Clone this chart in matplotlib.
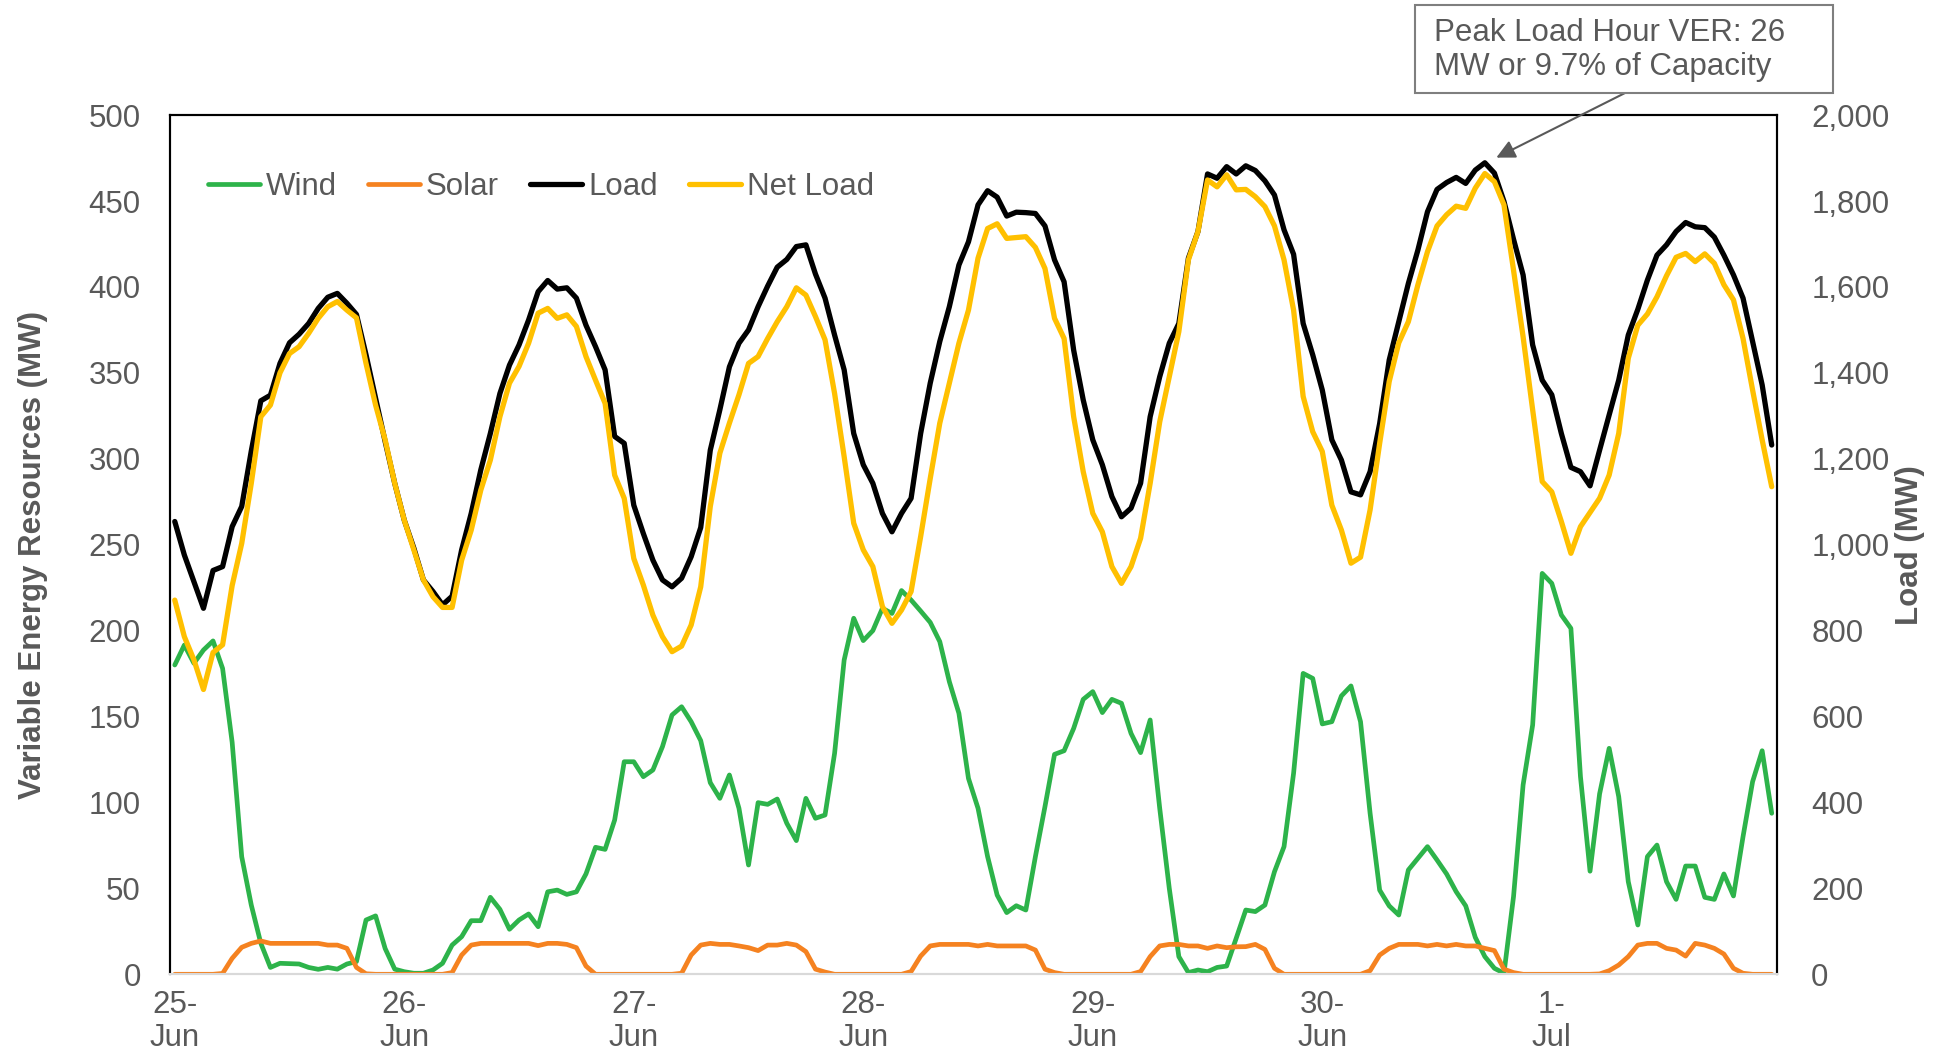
import numpy as np
import matplotlib
matplotlib.use("Agg")
import matplotlib.pyplot as plt
from matplotlib.patches import Rectangle
from matplotlib.ticker import FuncFormatter

plt.rcParams['font.family'] = ['Liberation Sans', 'DejaVu Sans']

# hourly values, 25-Jun 00:00 through 1-Jul 23:00
wind = [
    180, 191.6, 181, 188.7, 194, 178, 135, 68.4, 40.3, 18, 4, 6.4, 6.2, 6, 4, 2.9, 4, 3, 6, 7.4, 31.6, 34, 15, 3,
    1.5, 0.6, 0.6, 2.5, 6.4, 17, 21.9, 31.2, 31.2, 44.8, 37.8, 26.2, 31.6, 35.1, 27.7, 48, 49, 46.5, 48, 58.4, 73.9, 72.7, 89.8, 123.7,
    123.7, 115, 118.9, 132.5, 150.9, 155.7, 147, 136, 111.5, 102.4, 116, 96.6, 63.6, 99.9, 98.9, 102, 87.9, 77.8, 102.4, 90.8, 92.7, 128.6, 182.9, 207.2,
    194.2, 200, 213, 210, 223.3, 217.8, 211.4, 204.8, 193.6, 170.3, 151.9, 114, 96.6, 68.5, 46.1, 35.9, 39.9, 37.4, 68.5, 97.6, 128, 130.1, 143.1, 160,
    164.5, 152.3, 160, 157.7, 140.2, 129, 148, 96.6, 50, 10.3, 1, 2.5, 1.5, 4, 4.8, 21, 37.4, 36.5, 40.3, 59.7, 74.3, 117, 175.1, 172.2,
    145.7, 147, 162, 167.8, 147, 93.7, 49, 39.8, 34.5, 60.7, 67.5, 74.3, 66.5, 58.4, 48.1, 39.8, 21.5, 10.3, 3.5, 0.6, 45.2, 110.2, 145.1, 233.3,
    227.5, 209.1, 201.3, 115, 60, 105, 131.5, 103.4, 53.9, 28.7, 68.5, 75.2, 53.9, 43.6, 63, 63, 44.8, 43.6, 58.4, 45.6, 80.1, 112.1, 130.1, 93.7,
]

solar = [
    0, 0, 0, 0, 0, 0.5, 9.3, 15.7, 18, 19.4, 18, 18, 18, 18, 18, 18, 17, 17, 15.1, 4, 0.3, 0, 0, 0,
    0, 0, 0, 0, 0, 1, 11.2, 17, 18, 18, 18, 18, 18, 18, 16.7, 18, 18, 17.4, 15.5, 4.8, 0, 0, 0, 0,
    0, 0, 0, 0, 0, 0.6, 11.2, 17, 18, 17.4, 17.4, 16.5, 15.5, 13.8, 17, 17, 18, 17, 13.2, 3, 1.3, 0, 0, 0,
    0, 0, 0, 0, 0, 1.6, 10.6, 16.5, 17.4, 17.4, 17.4, 17.4, 16.5, 17.4, 16.5, 16.5, 16.5, 16.5, 14.1, 3, 1, 0, 0, 0,
    0, 0, 0, 0, 0, 1.6, 10.3, 16.5, 17.4, 17.4, 16.5, 16.5, 15.1, 16.5, 15.5, 16, 16.1, 17.4, 14.5, 3.5, 0, 0, 0, 0,
    0, 0, 0, 0, 0, 2.1, 11.2, 15.1, 17.4, 17.4, 17.4, 16.5, 17.4, 16.5, 17.4, 16.5, 16.5, 15.1, 13.8, 3, 1, 0, 0, 0,
    0, 0, 0, 0, 0, 0.2, 2.1, 5.4, 10.3, 17, 18, 18, 15.1, 14.1, 10.6, 18, 17, 15.1, 11.8, 3.5, 0.6, 0, 0, 0,
]

load = [
    1054, 976, 914, 852, 940, 949, 1042, 1089, 1218, 1335, 1348, 1422, 1470, 1490, 1515, 1550, 1576, 1585, 1562, 1536, 1442, 1341, 1240, 1143,
    1057, 992, 918, 891, 860, 880, 988, 1073, 1174, 1259, 1352, 1418, 1465, 1523, 1589, 1615, 1595, 1598, 1574, 1511, 1461, 1407, 1252, 1236,
    1092, 1026, 964, 918, 902, 922, 972, 1040, 1220, 1314, 1414, 1469, 1500, 1554, 1602, 1646, 1664, 1694, 1698, 1630, 1574, 1488, 1407, 1259,
    1186, 1143, 1073, 1030, 1073, 1108, 1259, 1376, 1473, 1554, 1651, 1705, 1791, 1824, 1809, 1765, 1774, 1773, 1771, 1742, 1663, 1612, 1453, 1337,
    1244, 1186, 1112, 1065, 1085, 1143, 1298, 1391, 1469, 1515, 1667, 1729, 1863, 1853, 1880, 1863, 1882, 1871, 1847, 1814, 1733, 1676, 1515, 1442,
    1360, 1244, 1197, 1123, 1116, 1170, 1282, 1430, 1519, 1608, 1686, 1775, 1827, 1843, 1855, 1841, 1872, 1889, 1865, 1799, 1711, 1628, 1465, 1383,
    1349, 1259, 1180, 1170, 1137, 1220, 1302, 1383, 1488, 1548, 1616, 1674, 1698, 1729, 1750, 1740, 1738, 1716, 1674, 1628, 1574, 1473, 1372, 1232,
]

net_load = [
    871, 786, 732, 663, 749, 767, 905, 1003, 1143, 1298, 1325, 1400, 1445, 1461, 1492, 1527, 1554, 1566, 1546, 1528, 1422, 1325, 1244, 1143,
    1057, 988, 918, 879, 854, 854, 964, 1034, 1127, 1197, 1298, 1376, 1415, 1469, 1539, 1550, 1527, 1535, 1508, 1438, 1383, 1329, 1162, 1108,
    968, 906, 836, 786, 751, 764, 813, 902, 1089, 1213, 1283, 1349, 1422, 1438, 1480, 1519, 1554, 1598, 1581, 1531, 1477, 1352, 1205, 1050,
    988, 949, 856, 817, 848, 891, 1019, 1154, 1283, 1376, 1469, 1546, 1667, 1736, 1747, 1713, 1715, 1717, 1692, 1643, 1527, 1480, 1298, 1170,
    1073, 1030, 949, 910, 949, 1015, 1143, 1286, 1391, 1496, 1663, 1729, 1849, 1833, 1861, 1826, 1827, 1810, 1787, 1742, 1663, 1546, 1345, 1263,
    1217, 1092, 1034, 957, 971, 1081, 1236, 1380, 1470, 1519, 1605, 1682, 1742, 1768, 1788, 1783, 1830, 1864, 1845, 1791, 1639, 1484, 1314, 1147,
    1123, 1054, 980, 1042, 1075, 1108, 1162, 1259, 1434, 1511, 1537, 1577, 1626, 1669, 1678, 1659, 1677, 1655, 1605, 1570, 1480, 1360, 1244, 1135,
]

day_labels = ['25-\nJun', '26-\nJun', '27-\nJun', '28-\nJun', '29-\nJun', '30-\nJun', '1-\nJul']
series_names = ['Wind', 'Solar', 'Load', 'Net Load']
note = "Peak Load Hour VER: 26\nMW or 9.7% of Capacity"

GRAY = '#595959'
FS = 22.5

W, H = 1941, 1053
fig = plt.figure(figsize=(W / 100, H / 100), dpi=100)
ax = fig.add_axes([170 / W, (H - 974.3) / H, 1606.5 / W, 859.2 / H])
ax2 = ax.twinx()

hours = np.arange(len(load))
lw_small = 3.4
lw_big = 3.8
l1, = ax.plot(hours, wind, color='#2DB34A', lw=lw_small, solid_joinstyle='round', solid_capstyle='round')
l2, = ax.plot(hours, solar, color='#F58220', lw=lw_small, solid_joinstyle='round', solid_capstyle='round')
l3, = ax2.plot(hours, load, color='black', lw=lw_big, solid_joinstyle='round', solid_capstyle='round')
l4, = ax2.plot(hours, net_load, color='#FFC000', lw=lw_big, solid_joinstyle='round', solid_capstyle='round')

ax.set_xlim(-0.5, len(load) - 0.5)
ax.set_ylim(0, 500)
ax2.set_ylim(0, 2000)
ax.set_yticks(np.arange(0, 501, 50))
ax2.set_yticks(np.arange(0, 2001, 200))
ax2.yaxis.set_major_formatter(FuncFormatter(lambda v, p: f'{v:,.0f}'))
ax.set_xticks(hours[::24])
ax.set_xticklabels(day_labels)
for lbl in ax.get_xticklabels():
    lbl.set_linespacing(1.15)

ax.tick_params(axis='both', length=0, labelsize=FS, labelcolor=GRAY)
ax.tick_params(axis='y', pad=21)
ax.tick_params(axis='x', pad=11)
ax2.tick_params(axis='y', length=0, labelsize=FS, labelcolor=GRAY, pad=25)

for a in (ax, ax2):
    for side in ('top', 'left', 'right'):
        a.spines[side].set_color('black')
        a.spines[side].set_linewidth(1.5)
    a.spines['bottom'].set_color('#D9D9D9')
    a.spines['bottom'].set_linewidth(1.5)

ax.set_ylabel('Variable Energy Resources (MW)', fontsize=FS, fontweight='bold', color=GRAY, va='center')
ax.yaxis.set_label_coords((33 - 170) / 1606.5, 0.488)
ax2.set_ylabel('Load (MW)', fontsize=FS, fontweight='bold', color=GRAY, va='center', rotation=90)
ax2.yaxis.set_label_coords((1910 - 170) / 1606.5, 0.5)

leg = ax2.legend([l1, l2, l3, l4], series_names, loc='center left',
                 bbox_to_anchor=(38 / 1606.5, 0.916), ncol=4, frameon=False,
                 fontsize=FS, handlelength=1.65, handletextpad=0.2,
                 columnspacing=1.0, borderpad=0, borderaxespad=0)
for t in leg.get_texts():
    t.set_color(GRAY)

# callout box and arrow
fig.patches.append(Rectangle((1415 / W, 1 - 93 / H), 418 / W, 88 / H, transform=fig.transFigure,
                             facecolor='white', edgecolor='#7F7F7F', lw=1.5, zorder=5))
fig.text(1434 / W, 1 - 50 / H, note, fontsize=FS, color=GRAY, va='center', ha='left',
         linespacing=1.15, zorder=6)
ax2.annotate('', xy=(138.2, 1901), xytext=(1625, H - 93), textcoords='figure pixels',
             arrowprops=dict(arrowstyle='-|>', color=GRAY, lw=1.5, mutation_scale=28,
                             shrinkA=0, shrinkB=0), annotation_clip=False)

fig.savefig('out.png', dpi=100)
